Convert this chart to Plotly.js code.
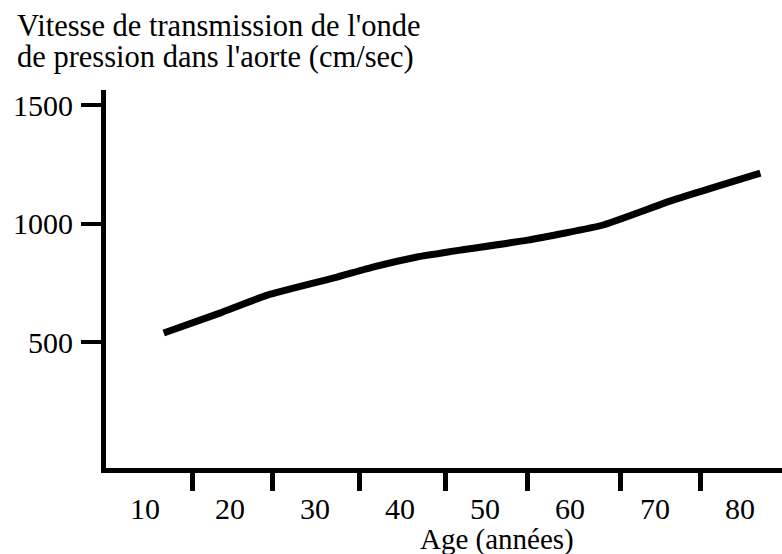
<!DOCTYPE html>
<html>
<head>
<meta charset="utf-8">
<script src="https://cdn.plot.ly/plotly-3.0.1.min.js"></script>
<style>html,body{margin:0;padding:0;background:#fff;}#chart{width:782px;height:554px;}</style>
</head>
<body>
<div id="chart"></div>
<script>
// Data
const ages = [12.2, 18.8, 24.4, 32.6, 36.8, 42.0, 47.1, 55.0, 63.9, 72.1, 82.4];
const speeds = [538, 622, 698, 774, 816, 859, 888, 930, 994, 1099, 1213];
const xLabelVals = [10, 20, 30, 40, 50, 60, 70, 80];
const xLabelText = ['10', '20', '30', '40', '50', '60', '70', '80'];
const xTickMarks = [15.6, 25, 35.2, 45.4, 55, 65.9, 75.4];
const yTickVals = [500, 1000, 1500];
const yTickText = ['500', '1000', '1500'];
const titleLine1 = "Vitesse de transmission de l'onde";
const titleLine2 = "de pression dans l'aorte (cm/sec)";
const xTitle = "Age (années)";

const FONT = '"Liberation Serif", "DejaVu Serif", serif';

const trace = {
  x: ages, y: speeds, type: 'scatter', mode: 'lines',
  line: {color: '#000', width: 7, shape: 'spline', smoothing: 0.4},
  hoverinfo: 'skip', showlegend: false
};

const layout = {
  width: 782, height: 554,
  margin: {l: 106, r: 0, t: 90, b: 86, pad: 0},
  paper_bgcolor: '#fff', plot_bgcolor: '#fff',
  showlegend: false,
  font: {family: FONT, color: '#000'},
  xaxis: {
    range: [5.41, 84.94], fixedrange: true,
    tickmode: 'array', tickvals: xLabelVals, ticktext: xLabelText,
    ticks: '', showline: true, linewidth: 5, linecolor: '#000',
    showgrid: false, zeroline: false,
    ticklabelstandoff: 10,
    tickfont: {family: FONT, size: 30, color: '#000'},
    minor: {tickmode: 'array', tickvals: xTickMarks, ticks: 'outside', ticklen: 18, tickwidth: 5, tickcolor: '#000', showgrid: false}
  },
  yaxis: {
    range: [-32, 1564], fixedrange: true,
    tickmode: 'array', tickvals: yTickVals, ticktext: yTickText,
    ticks: 'outside', ticklen: 20, tickwidth: 4, tickcolor: '#000',
    showline: true, linewidth: 5, linecolor: '#000',
    showgrid: false, zeroline: false,
    ticklabelstandoff: 2,
    tickfont: {family: FONT, size: 30, color: '#000'}
  },
  annotations: [
    {text: titleLine1, xref: 'paper', yref: 'paper', x: (15 - 106) / 676, y: 1 + (90 - 26) / 378,
     xanchor: 'left', yanchor: 'middle', showarrow: false, font: {family: FONT, size: 30.5, color: '#000'}},
    {text: titleLine2, xref: 'paper', yref: 'paper', x: (15 - 106) / 676, y: 1 + (90 - 57) / 378,
     xanchor: 'left', yanchor: 'middle', showarrow: false, font: {family: FONT, size: 30.5, color: '#000'}},
    {text: xTitle, xref: 'paper', yref: 'paper', x: (497 - 106) / 676, y: -(539 - 468) / 378,
     xanchor: 'center', yanchor: 'middle', showarrow: false, font: {family: FONT, size: 29, color: '#000'}}
  ]
};

Plotly.newPlot('chart', [trace], layout, {staticPlot: true, displayModeBar: false});
</script>
</body>
</html>
